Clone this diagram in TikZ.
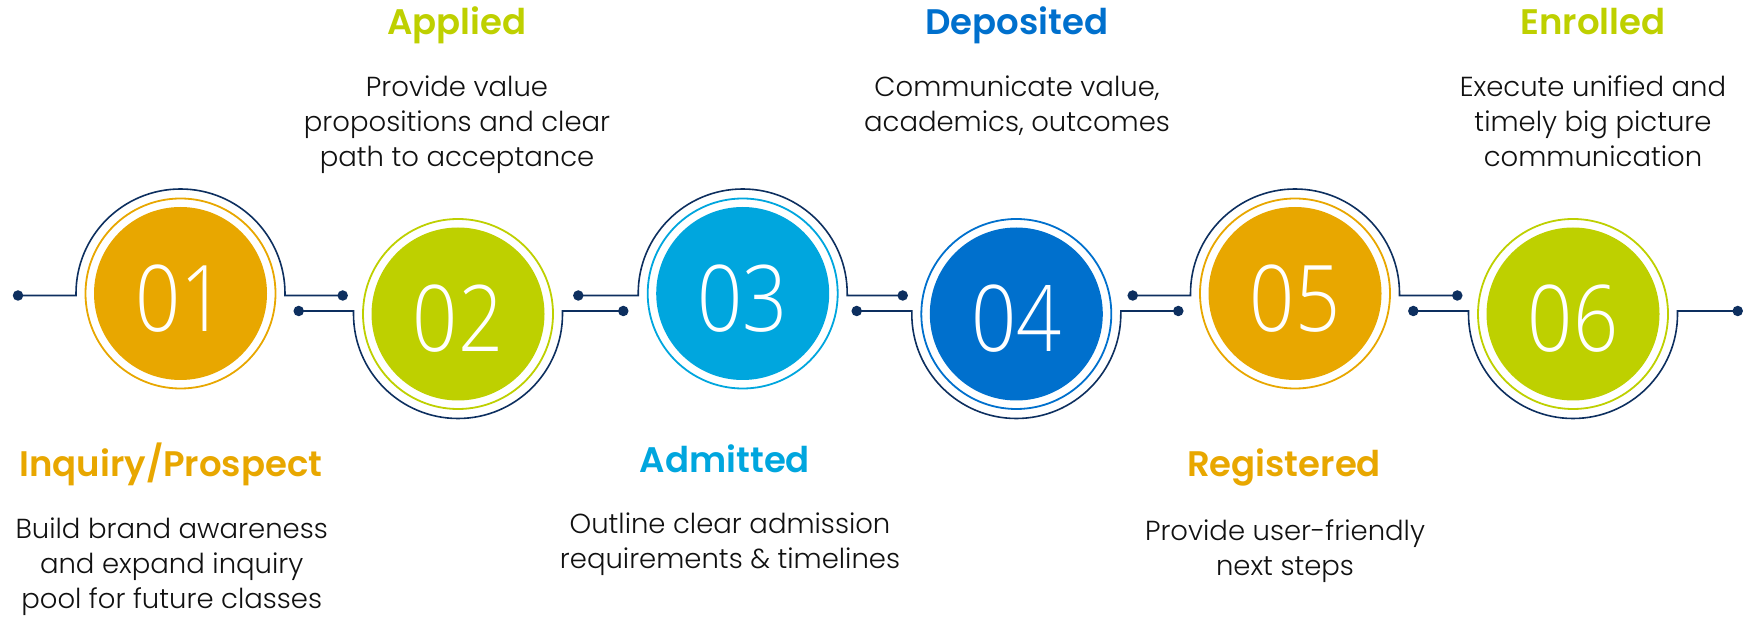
\documentclass[tikz,border=0pt]{standalone}
\usepackage{fontspec}
\usepackage{graphicx}
\IfFontExistsTF{Poppins Light}{\newfontfamily\bodyfont{Poppins Light}}{\newfontfamily\bodyfont{Poppins}}
\IfFontExistsTF{Poppins SemiBold}{\newfontfamily\headfont{Poppins SemiBold}}{\newfontfamily\headfontx{Poppins}\def\headfont{\headfontx\bfseries}}
\IfFontExistsTF{Open Sans Light}{\newfontfamily\numfont{Open Sans Light}}{\newfontfamily\numfont{Open Sans}}
\usetikzlibrary{calc}
\definecolor{corange}{HTML}{E8A700}
\definecolor{clime}{HTML}{BED000}
\definecolor{ccyan}{HTML}{00A6DE}
\definecolor{cblue}{HTML}{0070CD}
\definecolor{cnavy}{HTML}{0D2F5F}
\definecolor{ctext}{HTML}{111111}
\newcommand{\num}[1]{\raisebox{-4.5pt}[\height][0pt]{\scalebox{0.86}[1]{#1}}}
\begin{document}
\begin{tikzpicture}[x=1pt,y=1pt,
  disc/.style={circle, fill=#1, minimum size=173pt, inner sep=0pt, text=white,
    font=\numfont\fontsize{92}{92}\selectfont},
  ring/.style={draw=#1, line width=1.8pt},
  wire/.style={draw=cnavy, line width=1.6pt},
  dotn/.style={circle, fill=cnavy, inner sep=0pt, minimum size=10.5pt},
  head/.style={text=#1, font=\headfont\fontsize{35.5}{40}\selectfont, anchor=base, inner sep=0pt},
  body/.style={text=ctext, font=\bodyfont\fontsize{27.5}{35}\selectfont, align=center, anchor=base, inner sep=0pt}]
\useasboundingbox (0,0) rectangle (1750,616);

% discs
\node[disc=corange] (c1) at (180.5,322.5) {\num{01}};
\node[disc=clime]   (c2) at (458,302)     {\num{02}};
\node[disc=ccyan]   (c3) at (742.7,322.5) {\num{03}};
\node[disc=cblue]   (c4) at (1016.3,302)  {\num{04}};
\node[disc=corange] (c5) at (1295,322.5)  {\num{05}};
\node[disc=clime]   (c6) at (1573,302)    {\num{06}};

% rings
\draw[ring=corange] (c1.center) circle[radius=95];
\draw[ring=clime]   (c2.center) circle[radius=95];
\draw[ring=ccyan]   (c3.center) circle[radius=95];
\draw[ring=cblue]   (c4.center) circle[radius=95];
\draw[ring=corange] (c5.center) circle[radius=95];
\draw[ring=clime]   (c6.center) circle[radius=95];

% dots
\node[dotn] (d0)  at (18,320.5) {};
\node[dotn] (d1)  at (342.7,320.5) {};
\node[dotn] (d2)  at (298.7,305) {};
\node[dotn] (d3)  at (623.3,305) {};
\node[dotn] (d4)  at (578.3,320.5) {};
\node[dotn] (d5)  at (902.7,320.5) {};
\node[dotn] (d6)  at (856.7,305) {};
\node[dotn] (d7)  at (1178.3,305) {};
\node[dotn] (d8)  at (1132.7,320.5) {};
\node[dotn] (d9)  at (1457.3,320.5) {};
\node[dotn] (d10) at (1413.3,305) {};
\node[dotn] (d11) at (1737.7,305) {};

% wires over (up) circles
\draw[wire] (d0.center) -- ($(c1.center)+(-104.5,-2)$) -- ($(c1.center)+(-104.5,0)$)
  arc[start angle=180,end angle=0,radius=104.5] -- ($(c1.center)+(104.5,-2)$) -- (d1.center);
\draw[wire] (d4.center) -- ($(c3.center)+(-104.5,-2)$) -- ($(c3.center)+(-104.5,0)$)
  arc[start angle=180,end angle=0,radius=104.5] -- ($(c3.center)+(104.5,-2)$) -- (d5.center);
\draw[wire] (d8.center) -- ($(c5.center)+(-104.5,-2)$) -- ($(c5.center)+(-104.5,0)$)
  arc[start angle=180,end angle=0,radius=104.5] -- ($(c5.center)+(104.5,-2)$) -- (d9.center);
% wires under (down) circles
\draw[wire] (d2.center) -- ($(c2.center)+(-104.5,3)$) -- ($(c2.center)+(-104.5,0)$)
  arc[start angle=180,end angle=360,radius=104.5] -- ($(c2.center)+(104.5,3)$) -- (d3.center);
\draw[wire] (d6.center) -- ($(c4.center)+(-104.5,3)$) -- ($(c4.center)+(-104.5,0)$)
  arc[start angle=180,end angle=360,radius=104.5] -- ($(c4.center)+(104.5,3)$) -- (d7.center);
\draw[wire] (d10.center) -- ($(c6.center)+(-104.5,3)$) -- ($(c6.center)+(-104.5,0)$)
  arc[start angle=180,end angle=360,radius=104.5] -- ($(c6.center)+(104.5,3)$) -- (d11.center);

% headings and descriptions (body anchors sit on the baseline of the last line)
\node[head=clime] (h2) at (457,581) {Applied};
\node[body] (t2) at (457,449.3) {Provide value\\propositions and clear\\path to acceptance};
\node[head=cblue] (h4) at (1017,581) {Deposited};
\node[body] (t4) at (1017,484.3) {Communicate value,\\academics, outcomes};
\node[head=clime] (h6) at (1593,581) {Enrolled};
\node[body] (t6) at (1593,449.3) {Execute unified and\\timely big picture\\communication};
\node[head=corange] (h1) at (171,139.5) {Inquiry/Prospect};
\node[body] (t1) at (171.7,8) {Build brand awareness\\and expand inquiry\\pool for future classes};
\node[head=ccyan] (h3) at (725,143) {Admitted};
\node[body] (t3) at (730,48) {Outline clear admission\\requirements \& timelines};
\node[head=corange] (h5) at (1284,139.3) {Registered};
\node[body] (t5) at (1285,41) {Provide user-friendly\\next steps};
\end{tikzpicture}
\end{document}
